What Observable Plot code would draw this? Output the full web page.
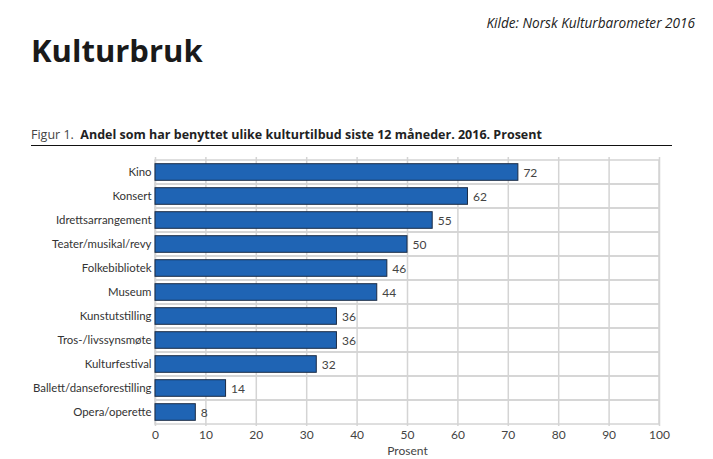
<!DOCTYPE html>
<html>
<head>
<meta charset="utf-8">
<script src="https://cdn.jsdelivr.net/npm/d3@7"></script>
<script src="https://cdn.jsdelivr.net/npm/@observablehq/plot@0.6"></script>
<style>
  html, body { margin: 0; padding: 0; background: #fff; }
  #wrap { position: relative; width: 713px; height: 459px; overflow: hidden; font-family: "Open Sans", sans-serif; }
  #wrap svg.plot { position: absolute; left: 0; top: 0; }
  .abs { position: absolute; white-space: nowrap; }
  #source { right: 18px; top: 13px; font-style: italic; font-size: 13.6px; color: #222; }
  #title { left: 31px; top: 29px; font-size: 31px; font-weight: 700; color: #1a1a1a; letter-spacing: 0px; }
  #fig { left: 31px; top: 126px; font-size: 12.5px; color: #222; }
  #fig .num { font-weight: 400; color: #444; }
  #fig .txt { font-weight: 700; }
  #rule { position: absolute; left: 31px; top: 145px; width: 641px; height: 0; border-top: 1.2px solid #111; }
</style>
</head>
<body>
<div id="wrap">
  <div id="source" class="abs">Kilde: Norsk Kulturbarometer 2016</div>
  <div id="title" class="abs">Kulturbruk</div>
  <div id="fig" class="abs"><span class="num">Figur 1.</span>&nbsp; <span class="txt">Andel som har benyttet ulike kulturtilbud siste 12 måneder. 2016. Prosent</span></div>
  <div id="rule"></div>
</div>
<script>
const categories = ["Kino", "Konsert", "Idrettsarrangement", "Teater/musikal/revy", "Folkebibliotek", "Museum", "Kunstutstilling", "Tros-/livssynsmøte", "Kulturfestival", "Ballett/danseforestilling", "Opera/operette"];
const values = [72, 62, 55, 50, 46, 44, 36, 36, 32, 14, 8];
const xTicks = [0, 10, 20, 30, 40, 50, 60, 70, 80, 90, 100];
const xLabel = "Prosent";

const data = categories.map((c, i) => ({category: c, value: values[i]}));
const gridColor = "#d4d4d4";

const chart = Plot.plot({
  width: 713,
  height: 459,
  marginLeft: 155,
  marginRight: 54,
  marginTop: 157,
  marginBottom: 33,
  x: {domain: [0, 100], ticks: xTicks},
  y: {domain: categories, padding: 0},
  style: {fontFamily: "Lato, sans-serif", fontSize: "12px", color: "#333", background: "transparent"},
  marks: [
    Plot.barX(categories, {x1: 0, x2: 100, y: d => d, fill: "none", stroke: gridColor, strokeWidth: 1.5}),
    Plot.ruleX(xTicks, {stroke: gridColor, strokeWidth: 1.5}),
    Plot.barX(data, {x: "value", y: "category", fill: "#1f64b4", stroke: "#1b2b44", strokeWidth: 1, insetTop: 3.7, insetBottom: 3.7}),
    Plot.text(data, {x: "value", y: "category", text: d => String(d.value), textAnchor: "start", dx: 5, dy: 1, fill: "#444", fontSize: 12}),
    Plot.axisX({ticks: xTicks, tickSize: 0, tickPadding: 4, label: xLabel, labelAnchor: "center", labelArrow: "none", labelOffset: 28, fill: "#444", fontSize: 12}),
    Plot.axisY({tickSize: 0, tickPadding: 4, label: null, fill: "#333", fontSize: 11.4})
  ]
});
chart.classList.add("plot");
document.getElementById("wrap").appendChild(chart);
</script>
</body>
</html>
